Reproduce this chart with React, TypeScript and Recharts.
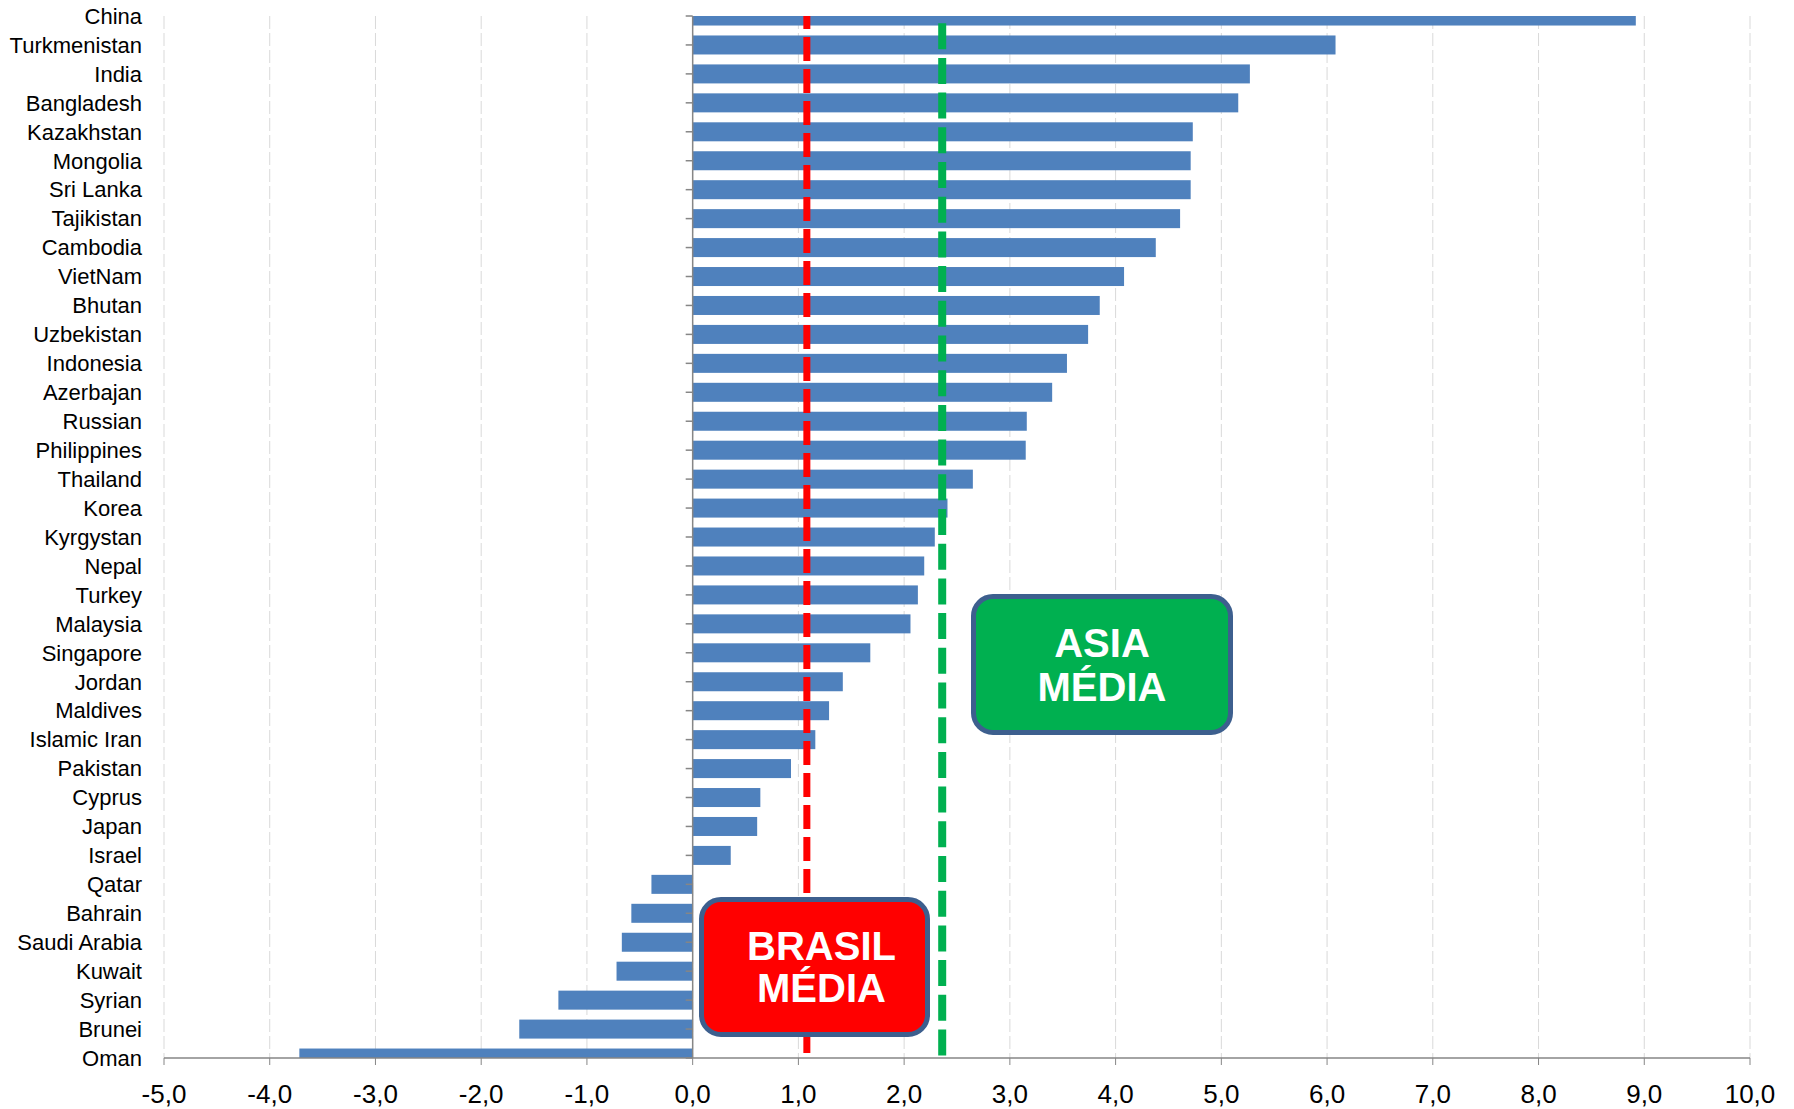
import {
  BarChart,
  Bar,
  XAxis,
  YAxis,
  CartesianGrid,
  ReferenceLine,
} from "recharts"

const countries = [
  "China", "Turkmenistan", "India", "Bangladesh", "Kazakhstan", "Mongolia",
  "Sri Lanka", "Tajikistan", "Cambodia", "VietNam", "Bhutan", "Uzbekistan",
  "Indonesia", "Azerbajan", "Russian", "Philippines", "Thailand", "Korea",
  "Kyrgystan", "Nepal", "Turkey", "Malaysia", "Singapore", "Jordan",
  "Maldives", "Islamic Iran", "Pakistan", "Cyprus", "Japan", "Israel",
  "Qatar", "Bahrain", "Saudi Arabia", "Kuwait", "Syrian", "Brunei", "Oman",
]

const growth = [
  8.92, 6.08, 5.27, 5.16, 4.73, 4.71,
  4.71, 4.61, 4.38, 4.08, 3.85, 3.74,
  3.54, 3.40, 3.16, 3.15, 2.65, 2.41,
  2.29, 2.19, 2.13, 2.06, 1.68, 1.42,
  1.29, 1.16, 0.93, 0.64, 0.61, 0.36,
  -0.39, -0.58, -0.67, -0.72, -1.27, -1.64, -3.72,
]

const xTicks = [-5, -4, -3, -2, -1, 0, 1, 2, 3, 4, 5, 6, 7, 8, 9, 10]

const brasilMedia = 1.08
const asiaMedia = 2.36

const data = countries.map((country, i) => ({ country, growth: growth[i] }))

const chartW = 1794
const chartH = 1109
const marginTop = 16
const xAxisH = 51
const plotTop = marginTop
const plotBottom = chartH - xAxisH
// categories sit on the tick marks (Excel style): first/last centred on the plot edges
const band = (plotBottom - plotTop) / (countries.length - 1)

const axisGray = "#868686"

// bars are clipped to the plot area like in Excel
function ClippedBar(props: any) {
  const { x, y, width, height, fill } = props
  const x0 = Math.min(x, x + width)
  const w = Math.abs(width)
  const top = Math.max(Math.min(y, y + height), plotTop)
  const bottom = Math.min(Math.max(y, y + height), plotBottom)
  if (bottom <= top || w <= 0) return <g />
  return <rect x={x0} y={top} width={w} height={bottom - top} fill={fill} />
}

const boxText: React.CSSProperties = {
  position: "absolute",
  boxSizing: "border-box",
  border: "5px solid #3D5F8E",
  borderRadius: 22,
  display: "flex",
  flexDirection: "column",
  alignItems: "center",
  justifyContent: "center",
  color: "#ffffff",
  fontFamily: "'Liberation Sans', Arial, sans-serif",
  fontWeight: "bold",
  fontSize: 40,
}

export default function App() {
  return (
    <div
      style={{
        position: "absolute",
        left: 0,
        top: 0,
        width: chartW,
        height: chartH,
        background: "#ffffff",
      }}
    >
      <BarChart
        width={chartW}
        height={chartH}
        data={data}
        layout="vertical"
        margin={{ top: marginTop, right: 44, bottom: 0, left: 0 }}
        barSize={19}
      >
        <CartesianGrid
          horizontal={false}
          stroke="#D9D9D9"
          strokeDasharray="13 4"
        />
        <XAxis
          type="number"
          domain={[-5, 10]}
          ticks={xTicks}
          interval={0}
          height={xAxisH}
          tickSize={7}
          tickMargin={20}
          stroke={axisGray}
          axisLine={{ stroke: axisGray, strokeWidth: 1.5 }}
          tickLine={{ stroke: axisGray }}
          tick={{ fill: "#000000", fontSize: 26, fontFamily: "'Liberation Sans', Arial, sans-serif" }}
          tickFormatter={(v) => Number(v).toFixed(1).replace(".", ",")}
        />
        <YAxis
          type="category"
          dataKey="country"
          width={164}
          interval={0}
          axisLine={false}
          tickLine={false}
          tickSize={0}
          tickMargin={22}
          padding={{ top: -band / 2, bottom: -band / 2 }}
          tick={{ fill: "#000000", fontSize: 22, fontFamily: "'Liberation Sans', Arial, sans-serif" }}
        />
        <Bar
          dataKey="growth"
          fill="#4F81BD"
          shape={<ClippedBar />}
          isAnimationActive={false}
        />
        <ReferenceLine x={0} stroke={axisGray} strokeWidth={1.5} ifOverflow="visible" />
        {countries.map((c) => (
          <ReferenceLine
            key={c}
            segment={[
              { x: -0.066, y: c },
              { x: 0, y: c },
            ]}
            stroke={axisGray}
            strokeWidth={1.5}
            ifOverflow="visible"
          />
        ))}
        <ReferenceLine
          x={brasilMedia}
          stroke="#FF0000"
          strokeWidth={7}
          strokeDasharray="24 8"
          strokeDashoffset={-5}
          ifOverflow="visible"
        />
        <ReferenceLine
          x={asiaMedia}
          stroke="#00B050"
          strokeWidth={8}
          strokeDasharray="26 8.7"
          strokeDashoffset={-2.5}
          ifOverflow="visible"
        />
      </BarChart>

      <div
        style={{
          ...boxText,
          left: 699,
          top: 897,
          width: 231,
          height: 140,
          background: "#FF0000",
          paddingLeft: 14,
          lineHeight: "42px",
        }}
      >
        <div>BRASIL</div>
        <div>MÉDIA</div>
      </div>

      <div
        style={{
          ...boxText,
          left: 971,
          top: 594,
          width: 262,
          height: 141,
          background: "#00B050",
          lineHeight: "44px",
        }}
      >
        <div>ASIA</div>
        <div>MÉDIA</div>
      </div>
    </div>
  )
}
